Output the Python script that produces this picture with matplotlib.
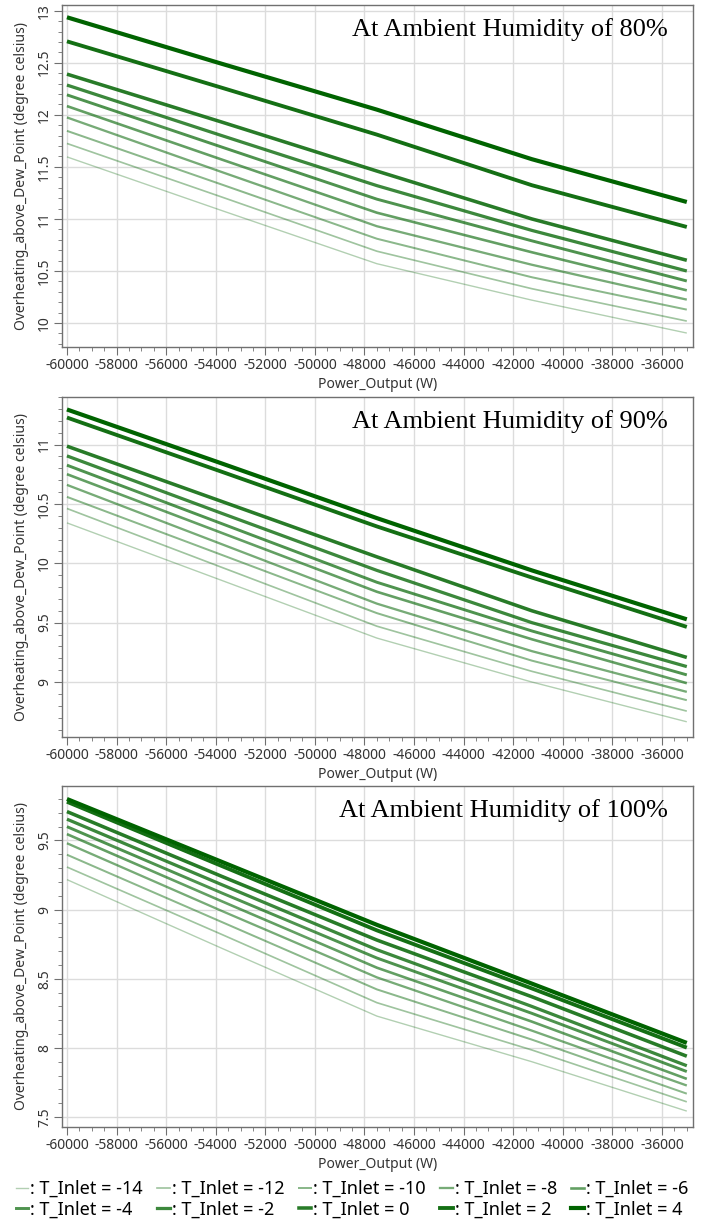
import numpy as np
import matplotlib
matplotlib.use("Agg")
import matplotlib.pyplot as plt
from matplotlib.ticker import MultipleLocator
from matplotlib.lines import Line2D

plt.rcParams['font.family'] = ['Noto Sans', 'DejaVu Sans']
plt.rcParams['axes.unicode_minus'] = False

############ data

power = [-60000, -53750, -47500, -41250, -35000]
t_inlet = [-14, -12, -10, -8, -6, -4, -2, 0, 2, 4]

# one row per T_Inlet, same order as t_inlet
hum80 = [
    [11.596, 11.08, 10.57, 10.22, 9.904],
    [11.725, 11.21, 10.69, 10.33, 10.019],
    [11.846, 11.33, 10.81, 10.44, 10.129],
    [11.975, 11.45, 10.93, 10.56, 10.225],
    [12.084, 11.57, 11.06, 10.68, 10.314],
    [12.192, 11.69, 11.19, 10.79, 10.404],
    [12.286, 11.80, 11.32, 10.89, 10.50],
    [12.391, 11.93, 11.46, 11.00, 10.603],
    [12.706, 12.26, 11.81, 11.324, 10.923],
    [12.937, 12.49, 12.05, 11.574, 11.163],
]

hum90 = [
    [10.34, 9.855, 9.37, 9.00, 8.665],
    [10.461, 9.965, 9.47, 9.09, 8.755],
    [10.559, 10.07, 9.58, 9.18, 8.847],
    [10.66, 10.16, 9.66, 9.26, 8.917],
    [10.75, 10.255, 9.76, 9.36, 8.99],
    [10.826, 10.333, 9.84, 9.43, 9.06],
    [10.904, 10.42, 9.94, 9.50, 9.13],
    [10.986, 10.52, 10.054, 9.60, 9.207],
    [11.227, 10.77, 10.31, 9.88, 9.464],
    [11.295, 10.84, 10.38, 9.94, 9.528],
]

hum100 = [
    [9.217, 8.72, 8.23, 7.90, 7.543],
    [9.308, 8.82, 8.327, 7.985, 7.61],
    [9.397, 8.91, 8.423, 8.06, 7.669],
    [9.48, 8.99, 8.51, 8.125, 7.728],
    [9.546, 9.06, 8.58, 8.19, 7.776],
    [9.60, 9.12, 8.65, 8.25, 7.829],
    [9.654, 9.18, 8.71, 8.30, 7.871],
    [9.709, 9.24, 8.78, 8.37, 7.94],
    [9.78, 9.315, 8.85, 8.43, 8.002],
    [9.80, 9.345, 8.89, 8.465, 8.036],
]

titles = ['At Ambient Humidity of 80%', 'At Ambient Humidity of 90%', 'At Ambient Humidity of 100%']
ylims = [(9.77, 13.055), (8.537, 11.40), (7.428, 9.894)]
xticks = list(range(-60000, -35999, 2000))

########### style

n = len(t_inlet)
alphas = np.linspace(0.3, 1.0, n)
widths = np.linspace(1.0, 3.0, n)
colors = [(0.0, 0.39, 0.0, a) for a in alphas]

fig = plt.figure(figsize=(7.04, 12.22), dpi=100)

# axes boxes in pixels: top, bottom
boxes = [(5, 347), (397, 737), (786, 1127)]
left_px, right_px = 62, 693
W, H = 704.0, 1222.0

for (top, bot), data, title, ylim in zip(boxes, [hum80, hum90, hum100], titles, ylims):
    ax = fig.add_axes([left_px / W, 1 - bot / H, (right_px - left_px) / W, (bot - top) / H])
    for row, c, lw in zip(data, colors, widths):
        ax.plot(power, row, color=c, lw=lw, solid_capstyle='butt')
    ax.set_xlim(-60200, -34750)
    ax.set_ylim(*ylim)
    ax.set_xticks(xticks)
    ax.set_xticklabels([str(v) for v in xticks])
    ax.xaxis.set_minor_locator(MultipleLocator(500))
    ax.yaxis.set_major_locator(MultipleLocator(0.5))
    ax.yaxis.set_minor_locator(MultipleLocator(0.1))
    ax.yaxis.set_major_formatter(plt.FuncFormatter(lambda v, p: ('%g' % v)))
    ax.grid(True, which='major', color='#dcdcdc', lw=1.0)
    ax.set_axisbelow(True)
    ax.tick_params(which='major', length=6, color='#707070', labelsize=10, labelcolor='#333333', pad=2)
    ax.tick_params(axis='y', which='major', pad=1)
    ax.tick_params(which='minor', length=3, color='#707070')
    for lab in ax.get_yticklabels():
        lab.set_rotation(90)
        lab.set_va('center')
    for s in ax.spines.values():
        s.set_color('#707070')
        s.set_linewidth(1.0)
    ax.set_ylabel('Overheating_above_Dew_Point (degree celsius)', fontsize=10, color='#333333')
    ax.yaxis.set_label_coords(-0.052, 0.5)
    ax.set_xlabel('Power_Output (W)', fontsize=10, color='#333333')
    ax.xaxis.set_label_coords(0.5, -30.0 / (bot - top))
    ax.text(0.96, 1 - 25.0 / (bot - top), title, transform=ax.transAxes,
            ha='right', va='center', fontsize=19, family='Liberation Serif', color='black')

########### legend, row-wise order

handles = [Line2D([], [], color=c, lw=lw) for c, lw in zip(colors, widths)]
labels = [': T_Inlet = %d' % t for t in t_inlet]
order = []
for i in range(5):
    order += [i, i + 5]
fig.legend([handles[i] for i in order], [labels[i] for i in order],
           ncol=5, loc='center left', bbox_to_anchor=(0.012, 0.0185),
           frameon=False, fontsize=13, handlelength=0.7, handletextpad=0.1,
           columnspacing=0.8, labelspacing=0.15, borderaxespad=0.0)

fig.savefig('out.png', dpi=100)
